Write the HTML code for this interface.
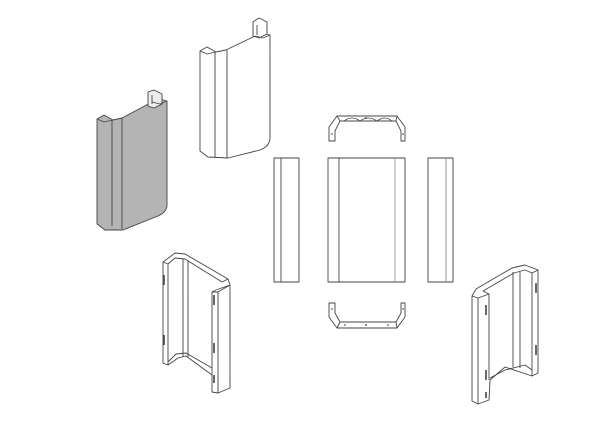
<!DOCTYPE html>
<html><head><meta charset="utf-8"><style>html,body{margin:0;padding:0;background:#fff}svg{display:block}</style></head>
<body>
<svg width="600" height="424" viewBox="0 0 600 424" xmlns="http://www.w3.org/2000/svg" fill="none" stroke="#444" stroke-width="0.9" stroke-linejoin="round">
<!-- gray piece -->
<path d="M97,119 L104,115 L113,120 L122,118 L152,102 L160,99 L167,101 L167,205 Q167,212 158,216 L123,230 L105,230 L97,224 Z" fill="#b4b4b4"/>
<path d="M112,120 L112,226 M122,118 L122,229"/>
<path d="M148,92 L154,90 L162,94 L162,104 L154,108 L148,106 Z" fill="#eee"/>
<path d="M152,95 L152,104"/>
<path d="M97,119 L104,122 L113,120 M152,102 L160,104 L167,101" stroke-width="0.8"/>
<!-- white piece -->
<path d="M200,51 L207,47 L216,52 L226,50 L255,36 L263,33 L270,35 L270,138 Q270,146 260,150 L228,158 L208,157 L200,151 Z" fill="#fff"/>
<path d="M215,52 L215,157 M227,50 L227,158"/>
<path d="M253,22 L259,18 L267,22 L267,34 L259,38 L253,36 Z" fill="#fff"/>
<path d="M257,25 L257,35"/>
<path d="M200,51 L207,54 L216,52 M255,36 L263,38 L270,35" stroke-width="0.8"/>
<!-- middle strips -->
<rect x="274" y="158" width="25" height="124" fill="#fff"/>
<path d="M281,158 L281,282"/>
<rect x="328" y="158" width="77" height="124" fill="#fff"/>
<path d="M339,158 L339,282"/><path d="M395,158 L395,282" stroke="#999"/>
<rect x="428" y="158" width="25" height="124" fill="#fff"/>
<path d="M446,158 L446,282" stroke="#888"/>
<!-- top bracket -->
<path d="M329,127 L329,141 L335,141 L335,131 L340,121 L396,121 L401,131 L401,141 L405,141 L405,127 L397,116 L337,116 Z" fill="#fff"/>
<path d="M337,116 L340,121 M397,116 L396,121 M344,121 Q352,115 360,121 Q368,115 377,121 Q385,115 392,121" stroke-width="0.8"/>
<!-- bottom bracket -->
<path d="M329,303 L329,317 L337,328 L397,328 L405,317 L405,303 L401,303 L401,313 L396,322 L340,322 L335,313 L335,303 Z" fill="#fff"/>
<path d="M337,328 L340,322 M397,328 L396,322"/>
<g fill="#333" stroke="none"><circle cx="366" cy="325" r="0.9"/><circle cx="345" cy="325" r="0.8"/><circle cx="388" cy="325" r="0.8"/><circle cx="332" cy="309" r="0.8"/><circle cx="403" cy="309" r="0.8"/><circle cx="366" cy="118" r="0.9"/><circle cx="332" cy="134" r="0.8"/><circle cx="403" cy="134" r="0.8"/></g>
<!-- bottom left frame -->
<path d="M163,262 L175,253 L185,254 L228,279 L230,285 L216,290 L212,292 L212,392 L218,393 L230,388 L230,285 M163,262 L163,363 L168,365 L178,358 L186,356 L212,375 M168,264 L168,365 M163,262 L168,264 L175,258 L185,259 L222,282 L228,279 M218,292 L218,393 M212,292 L218,292 L230,285 M183,259 L183,357 M188,261 L188,357 M168,362 L176,354 L186,353 L212,368"/>
<path d="M164,275 L164,285 M164,335 L164,345 M214,295 L214,305 M214,343 L214,353 M214,375 L214,383" stroke-width="1.6"/>
<!-- bottom right frame -->
<path d="M472,296 L476,289 L512,268 L525,265 L538,270 L538,373 L532,376 L505,367 L490,380 L489,400 L478,404 L472,401 Z M478,298 L478,404 M489,294 L489,380 M472,296 L478,298 L489,294 L483,291 L514,273 L525,270 L532,273 L538,270 M513,272 L513,367 M520,272 L520,368 M532,273 L532,376 M490,378 L505,370 L525,365 L532,370"/>
<path d="M486,305 L486,315 M486,370 L486,380 M486,392 L486,398 M536,283 L536,293 M536,345 L536,355" stroke-width="1.6"/>
</svg>
</body></html>
